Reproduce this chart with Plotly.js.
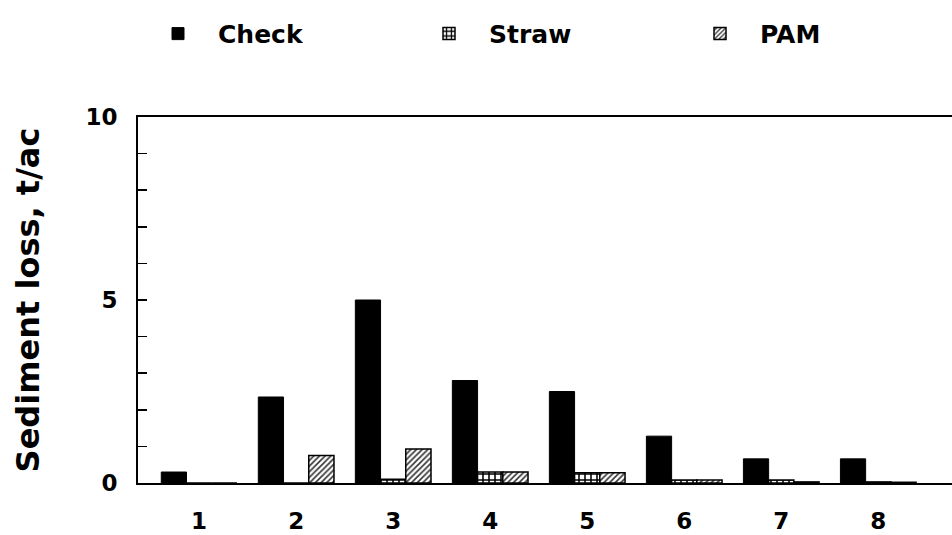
<!DOCTYPE html>
<html>
<head>
<meta charset="utf-8">
<script src="https://cdn.plot.ly/plotly-3.0.1.min.js"></script>
<style>html,body{margin:0;padding:0;background:#fff;}#chart{width:952px;height:535px;}</style>
</head>
<body>
<div id="chart"></div>
<script>
const categories = ['1','2','3','4','5','6','7','8'];
const checkValues = [0.3, 2.35, 5.0, 2.8, 2.5, 1.28, 0.66, 0.66];
const strawValues = [0.0, 0.0, 0.1, 0.3, 0.28, 0.08, 0.08, 0.03];
const pamValues   = [0.0, 0.75, 0.93, 0.3, 0.28, 0.08, 0.03, 0.02];
const yTickVals = [0, 5, 10];
const yTickText = ['0', '5', '10'];

const FONT = 'DejaVu Sans, Liberation Sans, Arial, sans-serif';

const traces = [
  {
    type: 'bar', name: 'Check', x: categories, y: checkValues,
    marker: {color: '#000000', line: {color: '#000000', width: 1}}
  },
  {
    type: 'bar', name: 'Straw', x: categories, y: strawValues,
    marker: {color: '#ffffff', line: {color: '#000000', width: 1.5},
      pattern: {shape: '+', fgcolor: '#000000', bgcolor: '#ffffff', size: 6, solidity: 0.45, fillmode: 'replace'}}
  },
  {
    type: 'bar', name: 'PAM', x: categories, y: pamValues,
    marker: {color: '#ffffff', line: {color: '#000000', width: 1.5},
      pattern: {shape: '/', fgcolor: '#333333', bgcolor: '#ffffff', size: 4, solidity: 0.4, fillmode: 'replace'}}
  }
];

const layout = {
  width: 952, height: 535,
  margin: {l: 138, r: 0, t: 117, b: 52},
  paper_bgcolor: '#ffffff', plot_bgcolor: '#ffffff',
  barmode: 'group', bargap: 0.22, bargroupgap: 0,
  font: {family: FONT, color: '#000000', weight: 'bold'},
  showlegend: true,
  legend: {
    orientation: 'h', x: 0, xanchor: 'left', y: 1.29, yanchor: 'top',
    font: {family: FONT, size: 25, color: '#000000', weight: 'bold'},
    itemwidth: 70, entrywidth: 186, entrywidthmode: 'pixels',
    bgcolor: 'rgba(0,0,0,0)', traceorder: 'normal'
  },
  xaxis: {
    type: 'category', range: [-0.63, 7.76],
    showline: true, linecolor: '#000000', linewidth: 2, mirror: true,
    ticks: '', showgrid: false, zeroline: false,
    ticklabelstandoff: 16,
    tickfont: {family: FONT, size: 23, color: '#000000', weight: 'bold'}
  },
  yaxis: {
    range: [0, 10], showline: true, linecolor: '#000000', linewidth: 2,
    showgrid: false, zeroline: false,
    tickmode: 'array', tickvals: yTickVals, ticktext: yTickText,
    ticks: 'inside', ticklen: 9, tickwidth: 1.5, tickcolor: '#000000',
    minor: {dtick: 1, ticks: 'inside', ticklen: 9, tickwidth: 1.5, tickcolor: '#000000', showgrid: false},
    ticklabelstandoff: 14,
    tickfont: {family: FONT, size: 23, color: '#000000', weight: 'bold'},
    title: {text: 'Sediment loss, t/ac', standoff: 36,
      font: {family: FONT, size: 32, color: '#000000', weight: 'bold'}}
  }
};

Plotly.newPlot('chart', traces, layout, {displayModeBar: false, staticPlot: true});
</script>
</body>
</html>
